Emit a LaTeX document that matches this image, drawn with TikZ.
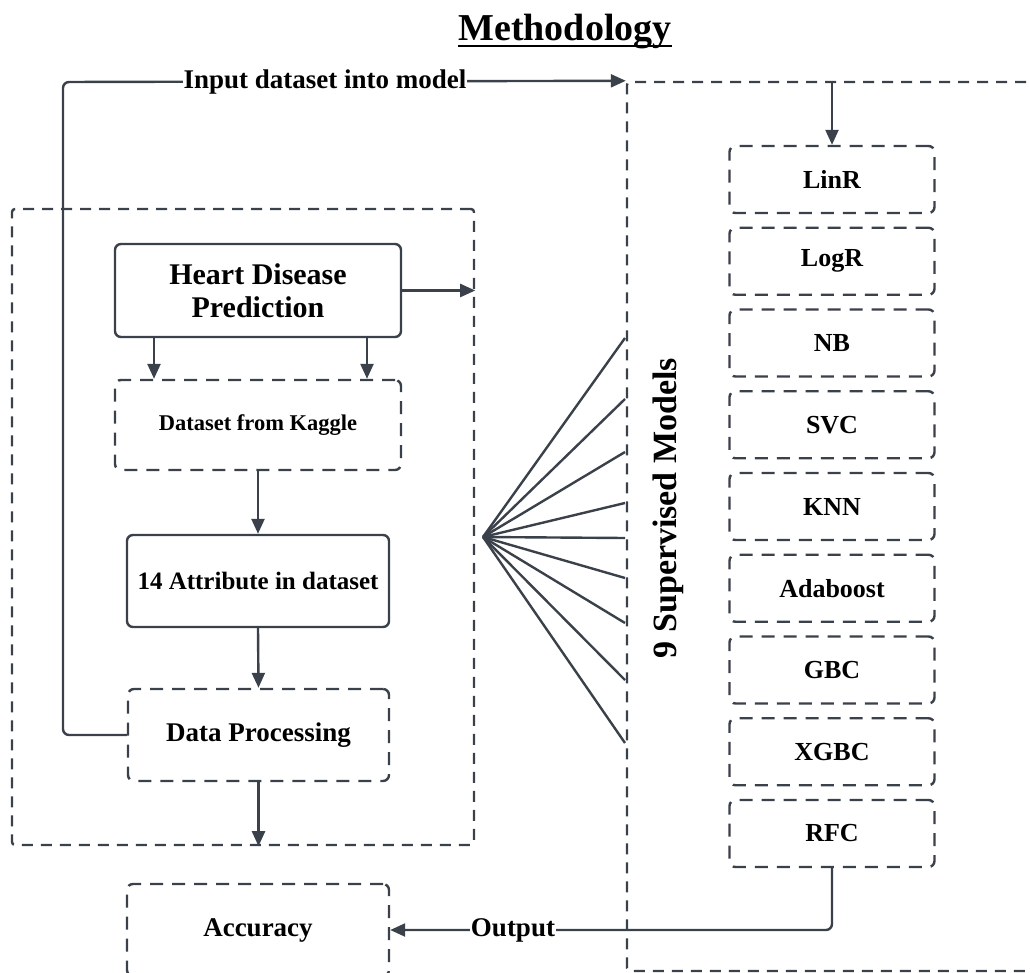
\documentclass[tikz,border=0pt]{standalone}
\usepackage{fontspec}
\setmainfont{Liberation Serif}
\usetikzlibrary{arrows.meta}
\definecolor{lc}{HTML}{3A414A}
\tikzset{
  base/.style={draw=lc, line width=2.4pt, rounded corners=6pt, align=center, inner sep=0pt, text=black, font=\bfseries\fontsize{27}{31}\selectfont},
  solidbox/.style={base},
  dashbox/.style={base, dash pattern=on 13pt off 9pt},
  outerbox/.style={draw=lc, line width=2.4pt, dash pattern=on 11pt off 8pt, inner sep=0pt, rounded corners=3pt},
  conn/.style={draw=lc, line width=2.4pt},
  arr/.style={conn, -{Triangle[length=15pt,width=13pt]}},
  modelbox/.style={dashbox, minimum width=205pt, minimum height=67pt, font=\bfseries\fontsize{26}{30}\selectfont},
  lbl/.style={fill=white, inner sep=1pt, text=black, font=\bfseries\fontsize{27}{31}\selectfont},
}
\begin{document}
\begin{tikzpicture}[x=1pt,y=-1pt]
\useasboundingbox (0,0) rectangle (1030,973);
% title
\node[font=\bfseries\fontsize{38}{42}\selectfont, inner sep=0pt, anchor=base] (title) at (565,41) {Methodology};
\draw[line width=2.5pt] ([yshift=-5pt]title.base west) -- ([yshift=-5pt]title.base east);
% containers
\node[outerbox, minimum width=462pt, minimum height=636pt] (lbox) at (243,527) {};
\node[outerbox, minimum width=440pt, minimum height=889pt] (rbox) at (847,526.5) {};
% left chain
\node[solidbox, minimum width=286pt, minimum height=93pt, font=\bfseries\fontsize{30}{33}\selectfont] (hdp) at (258,290.5) {Heart Disease\\Prediction};
\node[dashbox, minimum width=286pt, minimum height=90pt, font=\bfseries\fontsize{22.5}{26}\selectfont] (kag) at (258,425) {Dataset from Kaggle};
\node[solidbox, minimum width=262pt, minimum height=92pt, font=\bfseries\fontsize{25}{29}\selectfont] (attr) at (258,581) {14 Attribute in dataset};
\node[dashbox, minimum width=261pt, minimum height=92pt] (dp) at (258.5,735) {Data Processing};
\node[dashbox, minimum width=262pt, minimum height=92pt] (acc) at (258,930) {Accuracy};
% models
\foreach \n [count=\i from 0] in {LinR,LogR,NB,SVC,KNN,Adaboost,GBC,XGBC,RFC}
  \node[modelbox] (m\i) at (832,179.5+81.75*\i) {\n};
\node[rotate=90, font=\bfseries\fontsize{34}{38}\selectfont, inner sep=0pt] (sup) at (668,508) {9 Supervised Models};
% fan
\coordinate (fan) at (483,537);
\foreach \y [count=\k] in {338,399,452,503,538,578,623,680,743} {
  \coordinate (f\k) at (625,\y);
  \draw[conn] (fan) -- (f\k);
}
% connectors
\draw[arr] (hdp.east) -- (lbox.east |- hdp.east);
\draw[arr] ([xshift=-104pt]hdp.south) -- ([xshift=-104pt]kag.north);
\draw[arr] ([xshift=109pt]hdp.south) -- ([xshift=109pt]kag.north);
\draw[arr] (kag.south) -- (attr.north);
\draw[arr] (attr.south) -- (dp.north);
\draw[arr] (dp.south) -- (dp.south |- lbox.south);
\draw[arr, rounded corners=6pt] (dp.west) -- (63,735) -- (63,82) -- (rbox.north west);
\node[lbl] (inlbl) at (325,82) {Input dataset into model};
\draw[arr] (m0.north |- rbox.north) -- (m0.north);
\draw[arr, rounded corners=6pt] (m8.south) |- (acc.east);
\node[lbl] (outlbl) at (513,930) {Output};
\end{tikzpicture}
\end{document}
